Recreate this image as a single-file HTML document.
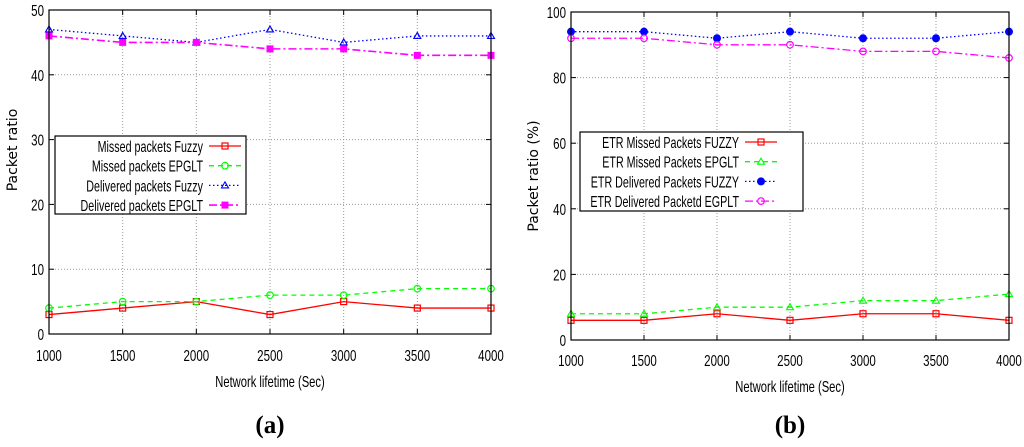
<!DOCTYPE html>
<html><head><meta charset="utf-8"><style>
body{margin:0;background:#fff;}
svg text{font-family:"Liberation Sans",sans-serif;}
</style></head><body>
<svg id="c" width="1024" height="442" viewBox="0 0 1024 442" xmlns="http://www.w3.org/2000/svg"></svg>
<script>
const categories=[1000,1500,2000,2500,3000,3500,4000];
const aMissedFuzzy=[3,4,5,3,5,4,4];
const aMissedEPGLT=[4,5,5,6,6,7,7];
const aDelivFuzzy=[47,46,45,47,45,46,46];
const aDelivEPGLT=[46,45,45,44,44,43,43];
const aTicks=[0,10,20,30,40,50];
const bMissedFuzzy=[6,6,8,6,8,8,6];
const bMissedEPGLT=[8,8,10,10,12,12,14];
const bDelivFuzzy=[94,94,92,94,92,92,94];
const bDelivEGPLT=[92,92,90,90,88,88,86];
const bTicks=[0,20,40,60,80,100];
const aLabels=["Missed packets Fuzzy","Missed packets EPGLT","Delivered packets Fuzzy","Delivered packets EPGLT"];
const bLabels=["ETR Missed Packets FUZZY","ETR Missed Packets EPGLT","ETR Delivered Packets FUZZY","ETR Delivered Packetd EGPLT"];

const NS="http://www.w3.org/2000/svg";
const svg=document.getElementById('c');
function el(tag,attrs,parent,text){const e=document.createElementNS(NS,tag);for(const k in attrs)e.setAttribute(k,attrs[k]);if(text!==undefined)e.textContent=text;(parent||svg).appendChild(e);return e;}

function marker(g,type,x,y,color){
  let m;
  if(type==='sq')m=el('rect',{x:x-3,y:y-3,width:6,height:6,fill:'none',stroke:color,'stroke-width':1.2},g);
  else if(type==='sqf')m=el('rect',{x:x-3.5,y:y-3.5,width:7,height:7,fill:color},g);
  else if(type==='circ')m=el('circle',{cx:x,cy:y,r:3.3,fill:'none',stroke:color,'stroke-width':1.2},g);
  else if(type==='circf')m=el('circle',{cx:x,cy:y,r:4,fill:color},g);
  else m=el('polygon',{points:`${x},${y-3.5} ${x-3.5},${y+2.5} ${x+3.5},${y+2.5}`,fill:'none',stroke:color,'stroke-width':1.1},g);
  
  
}

function chart(cfg){
  const g=el('g',{},svg);
  
  
  const xs=v=>cfg.x0+(v-1000)/3000*(cfg.x1-cfg.x0);
  const ys=v=>cfg.y0-(v/cfg.ymax)*(cfg.y0-cfg.y1);
  cfg.ticks.forEach(t=>{
    const y=ys(t);
    if(t>0&&t<cfg.ymax){const l=el('line',{x1:cfg.x0,x2:cfg.x1,y1:y,y2:y,stroke:'#999','stroke-width':1,'stroke-dasharray':'1,2'},g);}
    el('line',{x1:cfg.x0,x2:cfg.x0+5,y1:y,y2:y,stroke:'#000'},g);
    el('line',{x1:cfg.x1,x2:cfg.x1-5,y1:y,y2:y,stroke:'#000'},g);
    const tl=el('text',{x:cfg.x0-5,y:y+6,'text-anchor':'end','font-size':16,transform:`translate(${cfg.x0-5},0) scale(0.72,1) translate(${-(cfg.x0-5)},0)`},g,String(t));
    
  });
  categories.forEach(c=>{
    const x=xs(c);
    if(c>1000&&c<4000){el('line',{x1:x,x2:x,y1:cfg.y1,y2:cfg.y0,stroke:'#999','stroke-width':1,'stroke-dasharray':'1,2'},g);}
    el('line',{x1:x,x2:x,y1:cfg.y0,y2:cfg.y0-5,stroke:'#000'},g);
    el('line',{x1:x,x2:x,y1:cfg.y1,y2:cfg.y1+5,stroke:'#000'},g);
    const tl=el('text',{x:x,y:cfg.tickY,'text-anchor':'middle','font-size':16,transform:`translate(${x},0) scale(0.72,1) translate(${-x},0)`},g,String(c));
    
  });
  const series=cfg.series;
  series.forEach(s=>{
    const pts=s.data.map((v,i)=>[xs(categories[i]),ys(v)]);
    const p=el('polyline',{points:pts.map(p=>p.join(',')).join(' '),fill:'none',stroke:s.color,'stroke-width':s.w||1.3,'stroke-dasharray':s.dash||''},g);
    
    pts.forEach(pt=>marker(g,s.m,pt[0],pt[1],s.color));
  });
  const L=cfg.legend;
  const box=el('rect',{x:L.x,y:L.y,width:L.w,height:L.h,fill:'#fff',stroke:'#000','stroke-width':1.2},g);
  
  series.forEach((s,i)=>{
    const y=L.y+10+i*19.7;
    const tx=L.x+L.tx;
    const t=el('text',{x:tx,y:y+6,'text-anchor':'end','font-size':16,transform:`translate(${tx},0) scale(0.67,1) translate(${-tx},0)`},g,cfg.labels[i]);
    
    el('line',{x1:tx+6,x2:tx+38,y1:y,y2:y,stroke:s.color,'stroke-width':s.w||1.3,'stroke-dasharray':s.dash||''},g);
    marker(g,s.m,tx+22,y,s.color);
  });
  const ax=el('rect',{x:cfg.x0,y:cfg.y1,width:cfg.x1-cfg.x0,height:cfg.y0-cfg.y1,fill:'none',stroke:'#000','stroke-width':1.2},g);
  
  const xc=(cfg.x0+cfg.x1)/2;
  const xt=el('text',{x:xc,y:cfg.titleY,'text-anchor':'middle','font-size':16,transform:`translate(${xc},0) scale(0.7,1) translate(${-xc},0)`},g,'Network lifetime (Sec)');
  
  const yt=el('text',{x:0,y:0,'text-anchor':'middle','font-size':14,style:'font-family:"DejaVu Sans",sans-serif',transform:`translate(${cfg.ylx},${cfg.yly}) rotate(-90)`},g,cfg.ylabel);
  
  const cap=el('text',{x:xc,y:433,'text-anchor':'middle','font-size':25,'font-weight':'bold',style:'font-family:"Liberation Serif",serif'},g,cfg.caption);
  
}

chart({name:'chart-a',x0:49,x1:491,y0:334,y1:10,ymax:50,ticks:aTicks,tickY:361,titleY:387,ylx:17,yly:150,ylabel:'Packet ratio',caption:'(a)',
  labels:aLabels,legend:{x:55,y:136,w:191,h:78,tx:148},
  series:[{data:aMissedFuzzy,color:'#f00',m:'sq'},{data:aMissedEPGLT,color:'#0f0',m:'circ',dash:'5,4'},
          {data:aDelivFuzzy,color:'#00f',m:'tri',dash:'1.5,2.5'},{data:aDelivEPGLT,color:'#f0f',m:'sqf',dash:'8,3,2,3',w:1.6}]});
chart({name:'chart-b',x0:571,x1:1009,y0:340,y1:12,ymax:100,ticks:bTicks,tickY:366,titleY:392,ylx:538,yly:176,ylabel:'Packet ratio (%)',caption:'(b)',
  labels:bLabels,legend:{x:580,y:132,w:223,h:79,tx:159},
  series:[{data:bMissedFuzzy,color:'#f00',m:'sq'},{data:bMissedEPGLT,color:'#0f0',m:'tri',dash:'5,4'},
          {data:bDelivFuzzy,color:'#00f',m:'circf',dash:'1.5,2.5'},{data:bDelivEGPLT,color:'#f0f',m:'circ',dash:'8,3,2,3'}]});
</script>
</body></html>
